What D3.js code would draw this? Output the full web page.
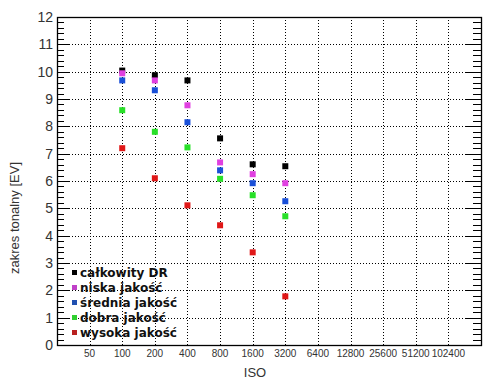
<!DOCTYPE html>
<html>
<head>
<meta charset="utf-8">
<script src="https://cdn.jsdelivr.net/npm/d3@7"></script>
<style>
  body { margin: 0; background: #fff; }
  svg { display: block; }
</style>
</head>
<body>
<svg id="chart" width="494" height="389"></svg>
<script>
// ISO values and tonal range series
var isoTicks = [50, 100, 200, 400, 800, 1600, 3200, 6400, 12800, 25600, 51200, 102400];
var isoValues = [100, 200, 400, 800, 1600, 3200];
var seriesNames = ['całkowity DR', 'niska jakość', 'średnia jakość', 'dobra jakość', 'wysoka jakość'];
var seriesColors = ['#000000', '#e040e0', '#1a50d8', '#28e028', '#e01818'];
var legendColors = ['#000000', '#c040c8', '#2050b0', '#30d030', '#b82020'];
var totalDR = [10.04, 9.87, 9.68, 7.56, 6.61, 6.54];
var lowQ = [9.94, 9.68, 8.77, 6.68, 6.25, 5.92];
var midQ = [9.68, 9.32, 8.15, 6.39, 5.92, 5.26];
var goodQ = [8.59, 7.80, 7.23, 6.08, 5.48, 4.71];
var highQ = [7.20, 6.10, 5.11, 4.38, 3.39, 1.78];
var seriesValues = [totalDR, lowQ, midQ, goodQ, highQ];
var yTicks = [0, 1, 2, 3, 4, 5, 6, 7, 8, 9, 10, 11, 12];

var svg = d3.select('#chart');
var pLeft = 57, pRight = 481, pTop = 17, pBottom = 345;

var x = d3.scaleLog().base(2).domain([25, 204800]).range([pLeft, pRight]);
var y = d3.scaleLinear().domain([0, 12]).range([pBottom, pTop]);

// grid
svg.append('g').selectAll('line').data(isoTicks).enter().append('line')
    .attr('x1', function (d) { return Math.round(x(d)) + 0.5; })
    .attr('x2', function (d) { return Math.round(x(d)) + 0.5; })
    .attr('y1', pTop).attr('y2', pBottom)
    .attr('stroke', '#000').attr('stroke-width', 1)
    .attr('stroke-dasharray', '1,2');
svg.append('g').selectAll('line').data(yTicks.slice(1, -1)).enter().append('line')
    .attr('x1', pLeft).attr('x2', pRight)
    .attr('y1', function (d) { return Math.round(y(d)) + 0.5; })
    .attr('y2', function (d) { return Math.round(y(d)) + 0.5; })
    .attr('stroke', '#000').attr('stroke-width', 1)
    .attr('stroke-dasharray', '1,2');

// minor/major ticks on left and right
var minor = d3.range(0, 12.001, 0.2);
var tk = svg.append('g');
minor.forEach(function (v) {
    var major = Math.abs(v - Math.round(v)) < 1e-6;
    var yy = Math.round(y(v)) + 0.5;
    tk.append('line').attr('x1', pLeft).attr('x2', pLeft + (major ? 12 : 7))
        .attr('y1', yy).attr('y2', yy).attr('stroke', '#000');
    tk.append('line').attr('x1', pRight).attr('x2', pRight - (major ? 15 : 8))
        .attr('y1', yy).attr('y2', yy).attr('stroke', '#000');
});

// frame
svg.append('rect').attr('x', pLeft + 0.5).attr('y', pTop + 0.5)
    .attr('width', pRight - pLeft).attr('height', pBottom - pTop)
    .attr('fill', 'none').attr('stroke', '#000').attr('stroke-width', 1.3);

// y labels
svg.append('g').selectAll('text').data(yTicks).enter().append('text')
    .attr('x', 53).attr('y', function (d) { return y(d) + 5; })
    .attr('text-anchor', 'end')
    .attr('font-family', 'Liberation Sans, Arial, sans-serif')
    .attr('font-size', 14).attr('fill', '#333')
    .text(function (d) { return d; });

// x labels
svg.append('g').selectAll('text').data(isoTicks).enter().append('text')
    .attr('x', function (d) { return x(d); }).attr('y', 357)
    .attr('text-anchor', 'middle')
    .attr('font-family', 'Liberation Sans, Arial, sans-serif')
    .attr('font-size', 10).attr('fill', '#333')
    .text(function (d) { return d; });

svg.append('text').attr('x', 255).attr('y', 377)
    .attr('text-anchor', 'middle')
    .attr('font-family', 'Liberation Sans, Arial, sans-serif')
    .attr('font-size', 13).attr('fill', '#333').text('ISO');

svg.append('text').attr('transform', 'translate(19,218) rotate(-90)')
    .attr('text-anchor', 'middle')
    .attr('font-family', 'Liberation Sans, Arial, sans-serif')
    .attr('font-size', 13).attr('fill', '#333').text('zakres tonalny [EV]');

// points
var sz = 6;
seriesValues.forEach(function (vals, si) {
    svg.append('g').selectAll('rect').data(vals).enter().append('rect')
        .attr('x', function (d, i) { return x(isoValues[i]) - sz / 2; })
        .attr('y', function (d) { return y(d) - sz / 2; })
        .attr('width', sz).attr('height', sz)
        .attr('fill', seriesColors[si]);
});

// legend
var lg = svg.append('g').selectAll('g').data(seriesNames).enter().append('g')
    .attr('transform', function (d, i) { return 'translate(72,' + (272.5 + i * 15) + ')'; });
lg.append('rect').attr('x', 0).attr('y', -2.5).attr('width', 5).attr('height', 5)
    .attr('fill', function (d, i) { return legendColors[i]; });
lg.append('text').attr('x', 8).attr('y', 4.5)
    .attr('font-family', 'DejaVu Sans, sans-serif').attr('font-weight', 'bold')
    .attr('font-size', 12).attr('fill', '#111')
    .text(function (d) { return d; });
</script>
</body>
</html>
